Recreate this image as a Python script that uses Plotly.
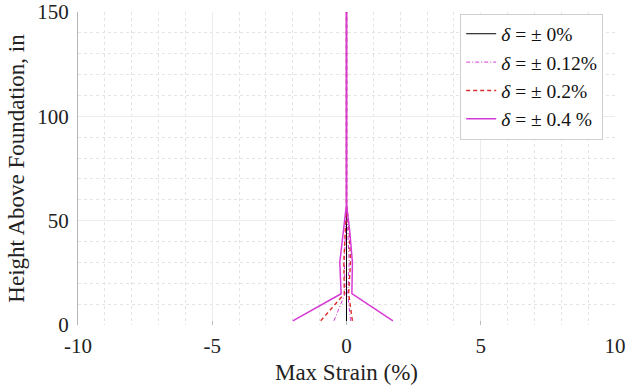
import plotly.graph_objects as go

heights = [2, 15, 30, 45, 58, 150]
heights_0 = [0, 15, 30, 45, 58, 150]

labels = ["<i>δ</i> = ± 0%", "<i>δ</i> = ± 0.12%", "<i>δ</i> = ± 0.2%", "<i>δ</i> = ± 0.4 %"]
min_0 = [0, 0, 0, 0, 0, 0]
max_0 = [0, 0, 0, 0, 0, 0]
min_012 = [-0.47, -0.05, -0.08, -0.05, 0, 0]
max_012 = [0.15, 0.05, 0.10, 0.05, 0, 0]
min_02 = [-0.96, -0.08, -0.10, -0.05, 0, 0]
max_02 = [0.22, 0.08, 0.15, 0.10, 0, 0]
min_04 = [-2.0, -0.2, -0.25, -0.12, 0, 0]
max_04 = [1.73, 0.2, 0.22, 0.12, 0, 0]

series = [
    (labels[0], heights_0, min_0, max_0, dict(color="black", width=1, dash="solid")),
    (labels[1], heights, min_012, max_012, dict(color="#d63ad6", width=1, dash="4px,2px,1px,2px")),
    (labels[2], heights, min_02, max_02, dict(color="#d9302e", width=1.4, dash="4px,3px")),
    (labels[3], heights, min_04, max_04, dict(color="#d63ad6", width=1.5, dash="solid")),
]

fig = go.Figure()
for name, h, mn, mx, ln in series:
    xs = list(mn) + [None] + list(mx)
    ys = list(h) + [None] + list(h)
    fig.add_trace(go.Scatter(x=xs, y=ys, mode="lines", name=name, line=ln,
                             connectgaps=False))

font = "Liberation Serif"
fig.update_layout(
    width=628, height=389,
    margin=dict(l=78, r=13, t=12, b=64, autoexpand=False),
    paper_bgcolor="white", plot_bgcolor="white",
    font=dict(family=font, size=21, color="#222"),
    showlegend=True,
    legend=dict(x=0.978, y=0.995, xanchor="right", yanchor="top",
                bgcolor="white", bordercolor="#cfcfcf", borderwidth=1,
                font=dict(family=font, size=19.5, color="#111"),
                itemwidth=30, tracegroupgap=0),
    xaxis=dict(range=[-10, 10], tickvals=[-10, -5, 0, 5, 10],
               ticktext=["-10", "-5", "0", "5", "10"], automargin=False,
               ticklabeloverflow="allow",
               showgrid=True, gridcolor="#ececec", gridwidth=1,
               minor=dict(dtick=1, showgrid=True, gridcolor="#e4e4e4", griddash="dot", gridwidth=1),
               zeroline=False, showline=False, ticks="inside", ticklen=4, tickcolor="#bbbbbb",
               ticklabelstandoff=6,
               title=dict(text="Max Strain (%)", font=dict(family=font, size=23, color="#222"), standoff=6),
               tickfont=dict(family=font, size=21, color="#222")),
    yaxis=dict(range=[0, 150], tickvals=[0, 50, 100, 150], automargin=False,
               ticklabeloverflow="allow",
               showgrid=True, gridcolor="#ececec", gridwidth=1,
               minor=dict(dtick=10, showgrid=True, gridcolor="#e4e4e4", griddash="dot", gridwidth=1),
               zeroline=False, showline=True, linecolor="#b5b5b5", linewidth=1,
               ticks="", ticklabelstandoff=4,
               title=dict(text="Height Above Foundation, in", font=dict(family=font, size=23, color="#222"), standoff=6),
               tickfont=dict(family=font, size=21, color="#222")),
)
fig.write_html("out.html")
